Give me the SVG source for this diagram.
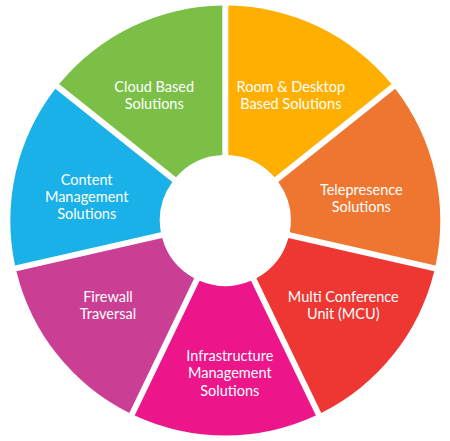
<svg xmlns="http://www.w3.org/2000/svg" width="450" height="441" viewBox="0 0 450 441">
<style>
.lbl{font-family:Lato,"Open Sans","Liberation Sans",sans-serif;font-size:14.5px;fill:#ffffff;text-anchor:middle}
</style>
<rect width="450" height="441" fill="#ffffff"/>
<g id="room">
<path d="M228.3,5.52 A215,215 0 0 1 391.51,84.12 L274.59,177.36 A65.5,65.5 0 0 0 228.3,155.07 Z" fill="#FFAF00"/>
<text class="lbl"><tspan x="290.8" y="92.3">Room &amp; Desktop</tspan><tspan x="290.8" y="109.3">Based Solutions</tspan></text>
</g>
<g id="telepresence">
<path d="M395.25,88.81 A215,215 0 0 1 435.56,265.41 L289.76,232.14 A65.5,65.5 0 0 0 278.33,182.05 Z" fill="#EF7630"/>
<text class="lbl"><tspan x="361.3" y="194.7">Telepresence</tspan><tspan x="361.3" y="211.7">Solutions</tspan></text>
</g>
<g id="mcu">
<path d="M434.22,271.26 A215,215 0 0 1 321.28,412.89 L256.39,278.15 A65.5,65.5 0 0 0 288.42,237.99 Z" fill="#EE3733"/>
<text class="lbl"><tspan x="343.3" y="301.7">Multi Conference</tspan><tspan x="343.3" y="318.7">Unit (MCU)</tspan></text>
</g>
<g id="infrastructure">
<path d="M315.87,415.49 A215,215 0 0 1 134.73,415.49 L199.61,280.75 A65.5,65.5 0 0 0 250.99,280.75 Z" fill="#EC158A"/>
<text class="lbl"><tspan x="229.8" y="361">Infrastructure</tspan><tspan x="229.8" y="378.3">Management</tspan><tspan x="229.8" y="395.6">Solutions</tspan></text>
</g>
<g id="firewall">
<path d="M129.32,412.89 A215,215 0 0 1 16.38,271.26 L162.18,237.99 A65.5,65.5 0 0 0 194.21,278.15 Z" fill="#CA3E93"/>
<text class="lbl"><tspan x="108" y="301.7">Firewall</tspan><tspan x="108" y="318.7">Traversal</tspan></text>
</g>
<g id="content">
<path d="M15.04,265.41 A215,215 0 0 1 55.35,88.81 L172.28,182.05 A65.5,65.5 0 0 0 160.84,232.14 Z" fill="#19B1E8"/>
<text class="lbl"><tspan x="86.7" y="184.7">Content</tspan><tspan x="86.7" y="201.7">Management</tspan><tspan x="86.7" y="218.7">Solutions</tspan></text>
</g>
<g id="cloud">
<path d="M59.09,84.12 A215,215 0 0 1 222.3,5.52 L222.3,155.07 A65.5,65.5 0 0 0 176.02,177.36 Z" fill="#7BBF47"/>
<text class="lbl"><tspan x="154.2" y="92.3">Cloud Based</tspan><tspan x="154.2" y="109.3">Solutions</tspan></text>
</g>
<g id="connectors"></g>
</svg>
